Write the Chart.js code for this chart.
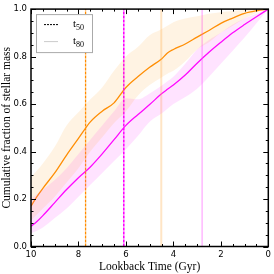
<!DOCTYPE html>
<html><head><meta charset="utf-8">
<script src="https://cdn.jsdelivr.net/npm/chart.js@4/dist/chart.umd.min.js"></script>
<style>html,body{margin:0;padding:0;background:#fff}#wrap{width:274px;height:274px}</style>
</head><body><div id="wrap"><canvas id="c" width="274" height="274"></canvas></div>
<script>
const times      = [10, 9.75, 9.5, 9, 8.5, 8, 7.5, 7, 6.5, 6, 5.5, 5, 4.5, 4.25, 4, 3.5, 3, 2.5, 2, 1.5, 1, 0.5, 0];
const orangeMed  = [0.17,0.21,0.245,0.31,0.385,0.455,0.525,0.57,0.605,0.67,0.715,0.755,0.79,0.815,0.83,0.853,0.882,0.91,0.94,0.962,0.982,0.993,1.0];
const orangeHigh = [0.29,0.32,0.35,0.42,0.51,0.565,0.62,0.67,0.74,0.80,0.84,0.89,0.915,0.93,0.945,0.96,0.97,0.98,0.987,0.992,0.996,0.999,1.0];
const orangeLow  = [0.11,0.135,0.16,0.21,0.27,0.33,0.40,0.46,0.52,0.57,0.635,0.68,0.712,0.728,0.74,0.78,0.83,0.86,0.90,0.93,0.96,0.985,1.0];
const magMed     = [0.085,0.105,0.13,0.185,0.24,0.29,0.335,0.39,0.45,0.51,0.555,0.598,0.643,0.662,0.68,0.722,0.772,0.818,0.86,0.90,0.935,0.968,1.0];
const magHigh    = [0.20,0.22,0.24,0.28,0.33,0.39,0.45,0.51,0.57,0.625,0.62,0.645,0.677,0.696,0.715,0.77,0.83,0.87,0.90,0.935,0.96,0.98,1.0];
const magLow     = [0.055,0.066,0.08,0.12,0.16,0.21,0.26,0.31,0.36,0.41,0.465,0.525,0.56,0.58,0.60,0.63,0.665,0.715,0.77,0.825,0.88,0.94,1.0];
const t50 = [7.70, 6.09];   // orange, magenta
const t80 = [4.51, 2.79];   // orange, magenta
const xTicks = [10, 8, 6, 4, 2, 0];
const yTicks = [0.0, 0.2, 0.4, 0.6, 0.8, 1.0];
const legendLabels = ['t', 't'];
const legendSubs = ['50', '80'];

const pts = (arr) => times.map((t, i) => ({x: t, y: arr[i]}));
const vline = (x) => [{x: x, y: 0}, {x: x, y: 1}];

const ORANGE = '#ff8c00', MAG = '#ff00ff';

const datasets = [
  {data: pts(orangeHigh), borderWidth: 0, pointRadius: 0, fill: '+1', backgroundColor: 'rgba(255,165,40,0.13)', borderColor: 'rgba(0,0,0,0)', cubicInterpolationMode: 'monotone'},
  {data: pts(orangeLow), borderWidth: 0, pointRadius: 0, fill: false, borderColor: 'rgba(0,0,0,0)', cubicInterpolationMode: 'monotone'},
  {data: pts(magHigh), borderWidth: 0, pointRadius: 0, fill: '+1', backgroundColor: 'rgba(255,60,255,0.14)', borderColor: 'rgba(0,0,0,0)', cubicInterpolationMode: 'monotone'},
  {data: pts(magLow), borderWidth: 0, pointRadius: 0, fill: false, borderColor: 'rgba(0,0,0,0)', cubicInterpolationMode: 'monotone'},
  {data: vline(t80[0]), borderColor: 'rgba(255,180,90,0.35)', borderWidth: 2, pointRadius: 0, fill: false},
  {data: vline(t80[1]), borderColor: 'rgba(255,80,255,0.6)', borderWidth: 1, pointRadius: 0, fill: false},
  {data: vline(t50[0]), borderColor: ORANGE, borderWidth: 1.3, borderDash: [3, 1], pointRadius: 0, fill: false},
  {data: vline(t50[1]), borderColor: MAG, borderWidth: 1.6, borderDash: [3, 1], pointRadius: 0, fill: false},
  {data: pts(orangeMed), borderColor: ORANGE, borderWidth: 1.3, pointRadius: 0, fill: false, cubicInterpolationMode: 'monotone'},
  {data: pts(magMed), borderColor: MAG, borderWidth: 1.3, pointRadius: 0, fill: false, cubicInterpolationMode: 'monotone'},
];

const tickPlugin = {
  id: 'inTicks',
  afterDraw(chart) {
    const ctx = chart.ctx, a = chart.chartArea;
    const xs = chart.scales.x, ys = chart.scales.y;
    ctx.save();
    ctx.strokeStyle = '#000';
    ctx.lineWidth = 1;
    for (let i = 0; i <= 20; i++) {
      const v = i * 0.5;
      const major = (i % 4 === 0);
      const len = major ? 5 : 2.5;
      const px = Math.round(xs.getPixelForValue(v)) + 0.5;
      ctx.beginPath();
      ctx.moveTo(px, a.bottom); ctx.lineTo(px, a.bottom - len);
      ctx.moveTo(px, a.top); ctx.lineTo(px, a.top + len);
      ctx.stroke();
    }
    for (let i = 0; i <= 20; i++) {
      const v = i * 0.05;
      const major = (i % 4 === 0);
      const len = major ? 5 : 2.5;
      const py = Math.round(ys.getPixelForValue(v)) + 0.5;
      ctx.beginPath();
      ctx.moveTo(a.left, py); ctx.lineTo(a.left + len, py);
      ctx.moveTo(a.right, py); ctx.lineTo(a.right - len, py);
      ctx.stroke();
    }
    ctx.lineWidth = 1.5;
    ctx.strokeRect(a.left, a.top, a.right - a.left, a.bottom - a.top);
    // legend
    const lx = a.left + 5, ly = a.top + 5, lw = 56, lh = 38;
    ctx.fillStyle = '#fff';
    ctx.fillRect(lx, ly, lw, lh);
    ctx.lineWidth = 1;
    ctx.strokeStyle = '#aaaaaa';
    ctx.strokeRect(lx + 0.5, ly + 0.5, lw, lh);
    const rows = [ly + 10, ly + 27];
    const styles = [{c: '#000', d: [2, 1], w: 1}, {c: '#cccccc', d: [], w: 1}];
    rows.forEach((ry, i) => {
      ctx.beginPath();
      ctx.strokeStyle = styles[i].c;
      ctx.lineWidth = styles[i].w;
      ctx.setLineDash(styles[i].d);
      ctx.moveTo(lx + 8, ry + 0.5); ctx.lineTo(lx + 22, ry + 0.5);
      ctx.stroke();
      ctx.setLineDash([]);
      ctx.fillStyle = '#000';
      ctx.textBaseline = 'alphabetic';
      ctx.textAlign = 'left';
      ctx.font = '11px "Liberation Serif"';
      ctx.fillText(legendLabels[i], lx + 37, ry + 3);
      const w = ctx.measureText(legendLabels[i]).width;
      ctx.font = '8px "Liberation Serif"';
      ctx.fillText(legendSubs[i], lx + 37 + w, ry + 6);
    });
    ctx.restore();
  }
};

new Chart(document.getElementById('c'), {
  type: 'line',
  data: {datasets},
  options: {
    responsive: false,
    animation: false,
    devicePixelRatio: 1,
    layout: {padding: {left: 0, top: 8, right: 5, bottom: 0}},
    plugins: {legend: {display: false}, tooltip: {enabled: false}},
    elements: {line: {tension: 0}},
    scales: {
      x: {
        type: 'linear', min: 0, max: 10, reverse: true,
        afterBuildTicks: (s) => { s.ticks = xTicks.map(v => ({value: v})); },
        afterFit: (s) => { s.height = 27.5; },
        grid: {display: false, drawTicks: false},
        border: {display: false},
        ticks: {color: '#000', padding: 3, font: {family: '"DejaVu Sans"', size: 8.5}, maxRotation: 0, callback: v => String(v)},
        title: {display: true, text: 'Lookback Time (Gyr)', color: '#000', font: {family: '"Liberation Serif"', size: 11.5}, padding: {top: 0, bottom: 0}}
      },
      y: {
        type: 'linear', min: 0, max: 1,
        afterBuildTicks: (s) => { s.ticks = yTicks.map(v => ({value: v})); },
        afterFit: (s) => { s.width = 31; },
        grid: {display: false, drawTicks: false},
        border: {display: false},
        ticks: {color: '#000', padding: 4, font: {family: '"DejaVu Sans"', size: 8.5}, callback: v => v.toFixed(1)},
        title: {display: true, text: 'Cumulative fraction of stellar mass', color: '#000', font: {family: '"Liberation Serif"', size: 11.5}, padding: {top: 0, bottom: 1}}
      }
    }
  },
  plugins: [tickPlugin]
});
</script>
</body></html>
